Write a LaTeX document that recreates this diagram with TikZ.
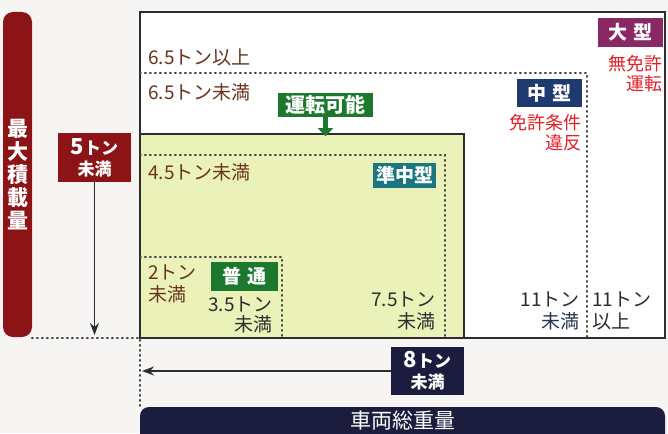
\documentclass[tikz,border=0pt]{standalone}
\usepackage{fontspec}
\setmainfont{Noto Sans CJK JP}
\usetikzlibrary{arrows.meta}

\definecolor{bgpaper}{RGB}{246,245,243}
\definecolor{frameline}{RGB}{45,45,45}
\definecolor{lightyg}{RGB}{234,242,186}
\definecolor{brownT}{RGB}{105,52,30}
\definecolor{darkT}{RGB}{45,45,45}
\definecolor{navyT}{RGB}{40,52,80}
\definecolor{redT}{RGB}{226,32,38}
\definecolor{maroon}{RGB}{140,20,22}
\definecolor{purpleB}{RGB}{138,40,102}
\definecolor{navyB}{RGB}{30,58,110}
\definecolor{tealB}{RGB}{28,118,128}
\definecolor{greenB}{RGB}{28,120,44}
\definecolor{inkB}{RGB}{28,28,62}

\begin{document}
\begin{tikzpicture}[x=1pt,y=-1pt,
	dotline/.style={draw=frameline!90,line width=2.3pt,dash pattern=on 0.8pt off 4.2pt,line cap=round},
	badge/.style={fill=#1,text=white,inner sep=0pt,font=\bfseries\fontsize{19}{19}\selectfont},
	tonlabel/.style={inner sep=0pt,text=#1,font=\fontsize{19}{22}\selectfont},
	redlabel/.style={inner sep=0pt,text=redT,anchor=east,align=right,font=\fontsize{18}{20}\selectfont},
	pointer/.style={draw=frameline,line width=1.6pt,-{Stealth[length=12pt,width=9pt]}}]
	
	\useasboundingbox (0,0) rectangle (668,433);
	\fill[bgpaper] (0,0) rectangle (668,433);
	
	%-------------------------------------
	\draw[line width=1.6pt,draw=frameline,fill=white] (140,12) rectangle (665,338);
	\draw[line width=1.6pt,draw=frameline,fill=lightyg] (140,134) rectangle (464,338);
	
	\draw[dotline] (140,73) -- (587,73) -- (587,338);
	\draw[dotline] (140,155) -- (445,155) -- (445,338);
	\draw[dotline] (140,257) -- (282,257) -- (282,338);
	\draw[dotline] (32,338) -- (140,338) -- (140,407);
	
	%-------------------------------------
	\node[badge=purpleB,minimum width=65pt,minimum height=29pt] (oogata) at (630.5,32.5) {大\,\,型};
	\node[redlabel] (mumenkyo) at (663,73.5) {無免許\\運転};
	
	\node[badge=navyB,minimum width=65pt,minimum height=28pt] (chuugata) at (549.5,93) {中\,\,型};
	\node[redlabel] (ihan) at (582,133) {免許条件\\違反};
	
	\node[badge=tealB,minimum width=63pt,minimum height=25pt] (junchuu) at (404.5,175.5) {準中型};
	\node[badge=greenB,minimum width=67pt,minimum height=29pt] (futsuu) at (244.5,276.5) {普\,\,通};
	
	\node[badge=greenB,minimum width=95pt,minimum height=24pt,font=\bfseries\fontsize{20}{20}\selectfont] (kanou) at (325.5,105) {運転可能};
	\draw[greenB,line width=5pt,-{Triangle[width=15pt,length=8pt]}] (kanou.south) -- ++(0,19);
	
	%-------------------------------------
	\node[tonlabel=brownT,anchor=west] (t65a) at (148,57.5) {6.5トン以上};
	\node[tonlabel=brownT,anchor=west] (t65b) at (148,92.5) {6.5トン未満};
	\node[tonlabel=brownT,anchor=west] (t45) at (148,172.5) {4.5トン未満};
	\node[tonlabel=brownT,anchor=west,align=left] (t2) at (148,284) {2トン\\未満};
	\node[tonlabel=darkT,anchor=east,align=right,font=\fontsize{19}{20}\selectfont] (t35) at (273,315) {3.5トン\\未満};
	\node[tonlabel=darkT,anchor=east,align=right] (t75) at (436,311) {7.5トン\\未満};
	\node[tonlabel=darkT,anchor=east,align=right] (t11a) at (580,311) {11トン\\\textcolor{navyT}{未満}};
	\node[tonlabel=darkT,anchor=west,align=left] (t11b) at (592,311) {11トン\\以上};
	
	%-------------------------------------
	\fill[maroon,rounded corners=10pt] (3,12) rectangle (32,337);
	\node[text=white,inner sep=0pt,align=center,font=\bfseries\fontsize{21}{23}\selectfont] (saidai) at (17.5,175) {最\\大\\積\\載\\量};
	
	\node[badge=maroon,minimum width=73pt,minimum height=49pt,align=center,font=\bfseries\fontsize{17}{21}\selectfont] (five) at (94.5,157.5) {{\fontsize{22}{22}\selectfont 5}トン\\未満};
	\coordinate (fiveend) at (94.5,335);
	\draw[pointer] (five.south) -- (fiveend);
	
	\node[badge=inkB,minimum width=73pt,minimum height=48pt,align=center,font=\bfseries\fontsize{17}{21}\selectfont] (eight) at (427.5,371) {{\fontsize{22}{22}\selectfont 8}トン\\未満};
	\coordinate (eightend) at (142,371);
	\draw[pointer] (eight.west) -- (eightend);
	
	\fill[inkB,rounded corners=9pt] (140,407) rectangle (665,450);
	\node[text=white,inner sep=0pt,font=\fontsize{21}{21}\selectfont] (sousou) at (402.5,421) {車両総重量};
	
\end{tikzpicture}
\end{document}
